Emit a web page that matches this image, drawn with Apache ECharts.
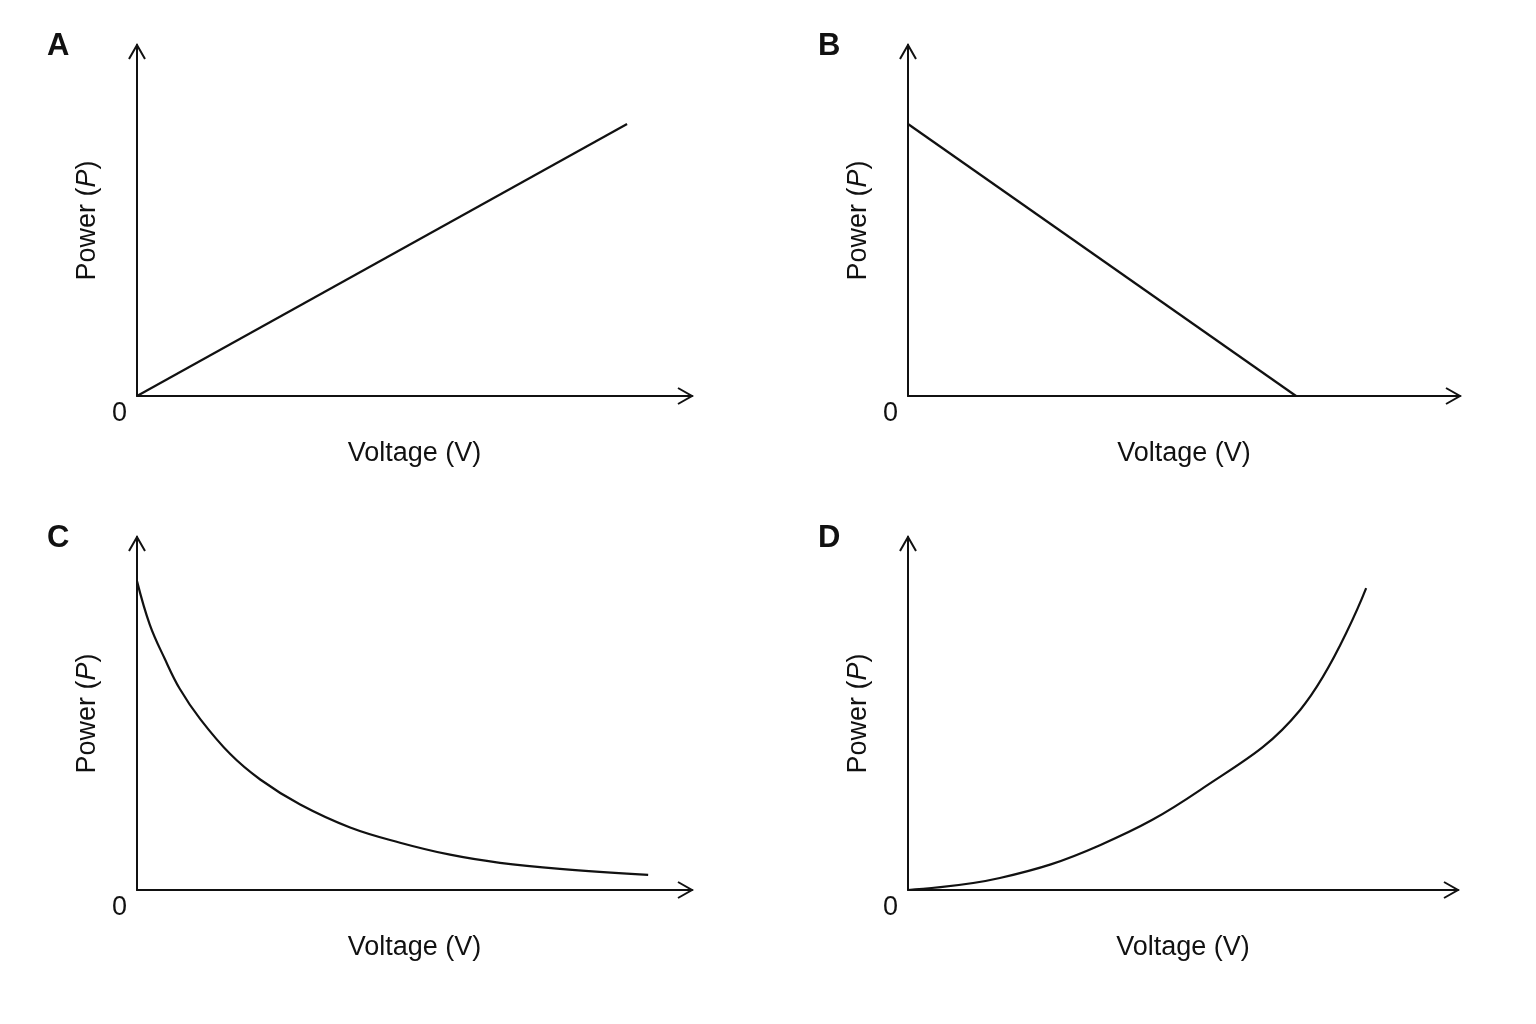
<!DOCTYPE html><html><head><meta charset="utf-8"><script src="https://cdn.jsdelivr.net/npm/echarts@6/dist/echarts.min.js"></script>
<style>html,body{margin:0;background:#fff}#c{width:1536px;height:1024px}</style></head><body><div id="c"></div><script>
const panelLabels=['A','B','C','D'];
const seriesA=[[0,0],[8.83,7.75]];
const seriesB=[[0,7.75],[7.03,0]];
const seriesC=[[0,8.75],[0.23,7.52],[0.5,6.55],[0.77,5.7],[1.14,4.84],[1.68,3.85],[2.22,3.13],[2.94,2.42],[3.84,1.77],[4.74,1.34],[5.64,1.0],[6.54,0.77],[7.62,0.6],[9.21,0.43]];
const seriesD=[[0,0],[1.67,0.34],[3.49,1.27],[5.31,2.83],[7.13,5.1],[8.33,8.55]];
const allData=[seriesA,seriesB,seriesC,seriesD];
const smooth=[false,false,true,true];
const grids=[{left:137,top:45,width:555,height:351},{left:908,top:45,width:552,height:351},{left:137,top:537,width:555,height:353},{left:908,top:537,width:550,height:353}];
const font='Liberation Sans, Arial, sans-serif';
const opt={animation:false,backgroundColor:'#fff',grid:[],xAxis:[],yAxis:[],series:[],graphic:[]};
grids.forEach((g,i)=>{
 opt.grid.push(g);
 const ax={type:'value',min:0,max:10,gridIndex:i,axisLine:{show:true,onZero:false,lineStyle:{color:'#111',width:2}},axisTick:{show:false},axisLabel:{show:false},splitLine:{show:false}};
 opt.xAxis.push(Object.assign({},ax,{name:'Voltage (V)',nameLocation:'middle',nameGap:44,nameTextStyle:{fontSize:27,color:'#111',fontFamily:font}}));
 opt.yAxis.push(Object.assign({},ax,{name:'{n|Power (}{i|P}{n|)}',nameLocation:'middle',nameGap:36,nameTextStyle:{rich:{n:{fontSize:27,color:'#111',fontFamily:font},i:{fontSize:27,color:'#111',fontFamily:font,fontStyle:'italic'}}}}));
 opt.series.push({type:'line',xAxisIndex:i,yAxisIndex:i,data:allData[i],smooth:smooth[i]?0.4:false,showSymbol:false,lineStyle:{color:'#111',width:2.2}});
 const ox=g.left,oy=g.top+g.height,ex=g.left+g.width;
 opt.graphic.push({type:'polyline',shape:{points:[[ex-14,oy-8],[ex,oy],[ex-14,oy+8]]},style:{stroke:'#111',lineWidth:2,fill:null}});
 opt.graphic.push({type:'polyline',shape:{points:[[ox-8,g.top+14],[ox,g.top],[ox+8,g.top+14]]},style:{stroke:'#111',lineWidth:2,fill:null}});
 opt.graphic.push({type:'text',x:ox-25,y:oy+4,style:{text:'0',fontSize:27,fill:'#111',fontFamily:font}});
 opt.graphic.push({type:'text',x:ox-90,y:g.top-14,style:{text:panelLabels[i],fontSize:31,fontWeight:'bold',fill:'#111',fontFamily:font}});
});
echarts.init(document.getElementById('c')).setOption(opt);
</script></body></html>
